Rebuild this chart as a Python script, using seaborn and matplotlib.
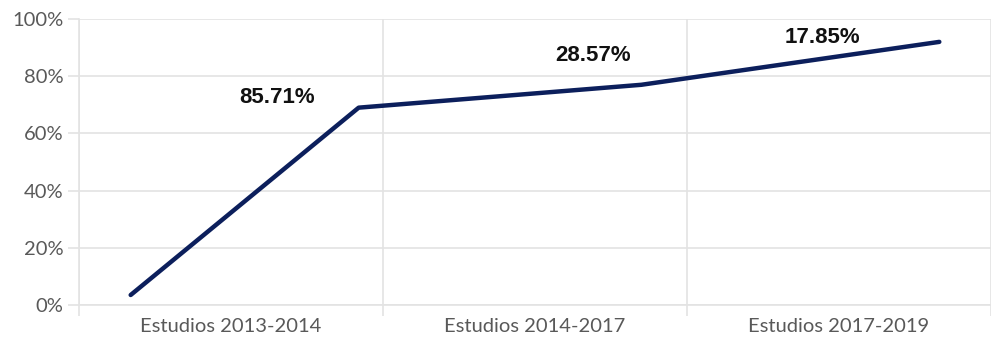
import matplotlib
matplotlib.use('Agg')
import matplotlib.pyplot as plt
import seaborn as sns
import numpy as np
import pandas as pd

# data
categories = ['Estudios 2013-2014', 'Estudios 2014-2017', 'Estudios 2017-2019']
# line vertices, x in category units (0, 1, 2 = category centres)
line_x = [-0.33, 0.42, 1.35, 2.33]
line_pct = [3.5, 69.0, 77.0, 92.0]
growth_labels = ['85.71%', '28.57%', '17.85%']
y_ticks = [0, 20, 40, 60, 80, 100]

df = pd.DataFrame({'x': line_x, 'pct': line_pct})

sns.set_theme(style='white')
plt.rcParams['font.family'] = ['Lato', 'DejaVu Sans']

grid_col = '#e3e3e3'
line_col = '#0c1f5c'
txt_col = '#595959'

fig = plt.figure(figsize=(9.91, 3.46), dpi=100)
ax = fig.add_axes([79 / 991, 1 - 305 / 346, 1 - 79 / 991, 286 / 346])

sns.lineplot(data=df, x='x', y='pct', ax=ax, color=line_col, linewidth=3.2,
             zorder=4, sort=False)

ax.set_xlim(-0.5, 2.5)
ax.set_ylim(0, 100)

# y axis
ax.set_yticks(y_ticks)
ax.set_yticklabels([str(v) + '%' for v in y_ticks])
ax.yaxis.grid(True, color=grid_col, linewidth=1.2)

# x axis: labels at centres, separators at boundaries
ax.set_xticks(range(len(categories)))
ax.set_xticklabels(categories)
ax.set_xticks(np.arange(-0.5, len(categories)), minor=True)
ax.xaxis.grid(True, which='minor', color=grid_col, linewidth=1.2)

ax.tick_params(axis='x', which='major', length=0, pad=9, labelsize=14.5,
               labelcolor=txt_col)
ax.tick_params(axis='x', which='minor', length=8, color=grid_col, width=1.2,
               bottom=True)
ax.tick_params(axis='y', length=8, color=grid_col, width=1.2, left=True,
               pad=3, labelsize=14.5, labelcolor=txt_col)

for s in ['top', 'right']:
    ax.spines[s].set_visible(False)
for s in ['left', 'bottom']:
    ax.spines[s].set_color(grid_col)
    ax.spines[s].set_linewidth(1.2)

ax.set_xlabel('')
ax.set_ylabel('')

# growth labels
label_pos = [(0.151, 72.7), (1.19, 87.1), (1.944, 93.4)]
for lab, (lx, ly) in zip(growth_labels, label_pos):
    ax.text(lx, ly, lab, ha='center', va='center', fontsize=16,
            fontweight='bold', color='#111111',
            family=['Liberation Sans', 'DejaVu Sans'], zorder=3,
            bbox=dict(facecolor='white', edgecolor='none', pad=2))

plt.savefig('out.png', dpi=100)
